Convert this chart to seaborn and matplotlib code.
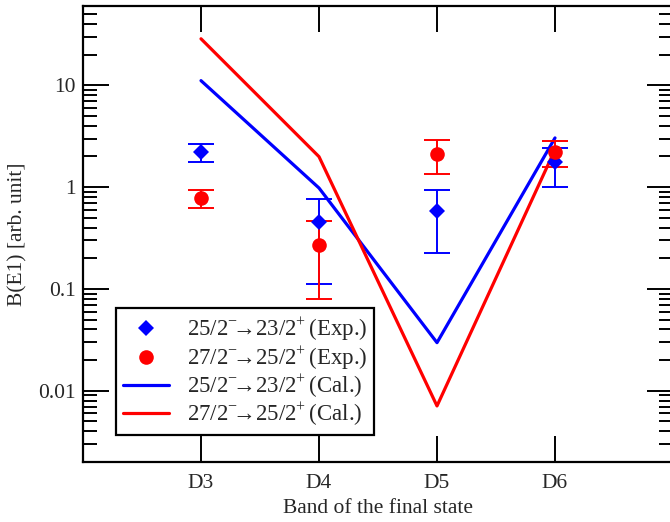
"""
plot.py
-------
B(E1) ratios per final-state band: experiment vs calculation.
"""

import numpy as np
import pandas as pd
import matplotlib
matplotlib.use("Agg")
import matplotlib.pyplot as plt
import matplotlib.ticker as mticker
from matplotlib.lines import Line2D
import seaborn as sns

# ── Data ──────────────────────────────────────────────────────────────────────
bands = ["D3", "D4", "D5", "D6"]

exp_25 = [2.21, 0.45, 0.58, 1.75]
exp_25_lo = [1.78, 0.112, 0.223, 1.0]
exp_25_hi = [2.67, 0.77, 0.93, 2.42]

exp_27 = [0.78, 0.273, 2.13, 2.21]
exp_27_lo = [0.625, 0.079, 1.35, 1.56]
exp_27_hi = [0.94, 0.47, 2.92, 2.81]

cal_25 = [11.1, 0.98, 0.0297, 3.04]
cal_27 = [28.6, 1.99, 0.0071, 2.33]

y_ticks = [0.01, 0.1, 1, 10]
y_tick_labels = ["0.01", "0.1", "1", "10"]

label_25_exp = r"25/2$\!^{\rm -}\!\!$→23/2$\!^{\rm +}$(Exp.)"
label_27_exp = r"27/2$\!^{\rm -}\!\!$→25/2$\!^{\rm +}$(Exp.)"
label_25_cal = r"25/2$\!^{\rm -}\!\!$→23/2$\!^{\rm +}$(Cal.)"
label_27_cal = r"27/2$\!^{\rm -}\!\!$→25/2$\!^{\rm +}$(Cal.)"

# ── Style ─────────────────────────────────────────────────────────────────────
sns.set_style("ticks")
plt.rcParams["font.family"] = ["Liberation Serif", "DejaVu Serif"]
plt.rcParams["mathtext.fontset"] = "custom"
plt.rcParams["mathtext.rm"] = "Liberation Serif"
FS = 15.5
FS_LEG = 16.5

BLUE = "#0000ff"
RED = "#ff0000"

xpos = np.arange(len(bands))
df = pd.DataFrame({
    "x": xpos,
    "cal_25": cal_25,
    "cal_27": cal_27,
})

# ── Figure ────────────────────────────────────────────────────────────────────
fig = plt.figure(figsize=(6.7, 5.22), dpi=100)
ax = fig.add_axes([83 / 670, 60 / 522, 590 / 670, 456 / 522])

sns.lineplot(data=df, x="x", y="cal_25", ax=ax, color=BLUE, lw=2.3, zorder=2)
sns.lineplot(data=df, x="x", y="cal_27", ax=ax, color=RED, lw=2.3, zorder=2)

for vals, lo, hi, color, marker, ms in [
    (exp_25, exp_25_lo, exp_25_hi, BLUE, "D", 8),
    (exp_27, exp_27_lo, exp_27_hi, RED, "o", 10.5),
]:
    vals = np.array(vals)
    yerr = [vals - np.array(lo), np.array(hi) - vals]
    ax.errorbar(xpos, vals, yerr=yerr, fmt="none", ecolor=color,
                elinewidth=1.4, capsize=9.5, capthick=1.4, zorder=3)
    ax.plot(xpos, vals, ls="none", marker=marker, ms=ms, color=color,
            markeredgewidth=0, zorder=4)

ax.set_yscale("log")
ax.set_ylim(0.002, 60)
ax.set_xlim(-1, 4)

ax.set_xticks(xpos)
ax.set_xticklabels(bands, fontsize=FS)
ax.yaxis.set_major_locator(mticker.FixedLocator(y_ticks))
ax.yaxis.set_major_formatter(mticker.FixedFormatter(y_tick_labels))
ax.yaxis.set_minor_locator(mticker.LogLocator(base=10, subs=np.arange(2, 10)))
ax.yaxis.set_minor_formatter(mticker.NullFormatter())
ax.tick_params(axis="y", labelsize=FS, pad=5)

ax.tick_params(which="both", direction="in", top=True, right=True, color="black")
ax.tick_params(axis="y", which="major", length=19, width=1.4)
ax.tick_params(axis="y", which="minor", length=10, width=1.4)
ax.tick_params(axis="x", which="major", length=19, width=1.4, pad=9)
ax.tick_params(axis="x", which="minor", bottom=False, top=False)

for sp in ax.spines.values():
    sp.set_visible(True)
    sp.set_linewidth(1.6)
    sp.set_color("black")

ax.set_xlabel("Band of the final state", fontsize=FS, labelpad=4)
ax.set_ylabel("B(E1) [arb. unit]", fontsize=FS, labelpad=8)

handles = [
    Line2D([], [], ls="none", marker="D", ms=8, color=BLUE, markeredgewidth=0),
    Line2D([], [], ls="none", marker="o", ms=10.5, color=RED, markeredgewidth=0),
    Line2D([], [], color=BLUE, lw=2.3),
    Line2D([], [], color=RED, lw=2.3),
]
leg = ax.legend(handles, [label_25_exp, label_27_exp, label_25_cal, label_27_cal],
                loc="lower left", bbox_to_anchor=(0.056, 0.059), borderaxespad=0,
                fontsize=FS_LEG, fancybox=False, framealpha=1, edgecolor="black",
                handlelength=2.0, handletextpad=0.8, labelspacing=0.02,
                borderpad=0.3)
leg.get_frame().set_linewidth(1.6)

fig.savefig("out.png", dpi=100)
